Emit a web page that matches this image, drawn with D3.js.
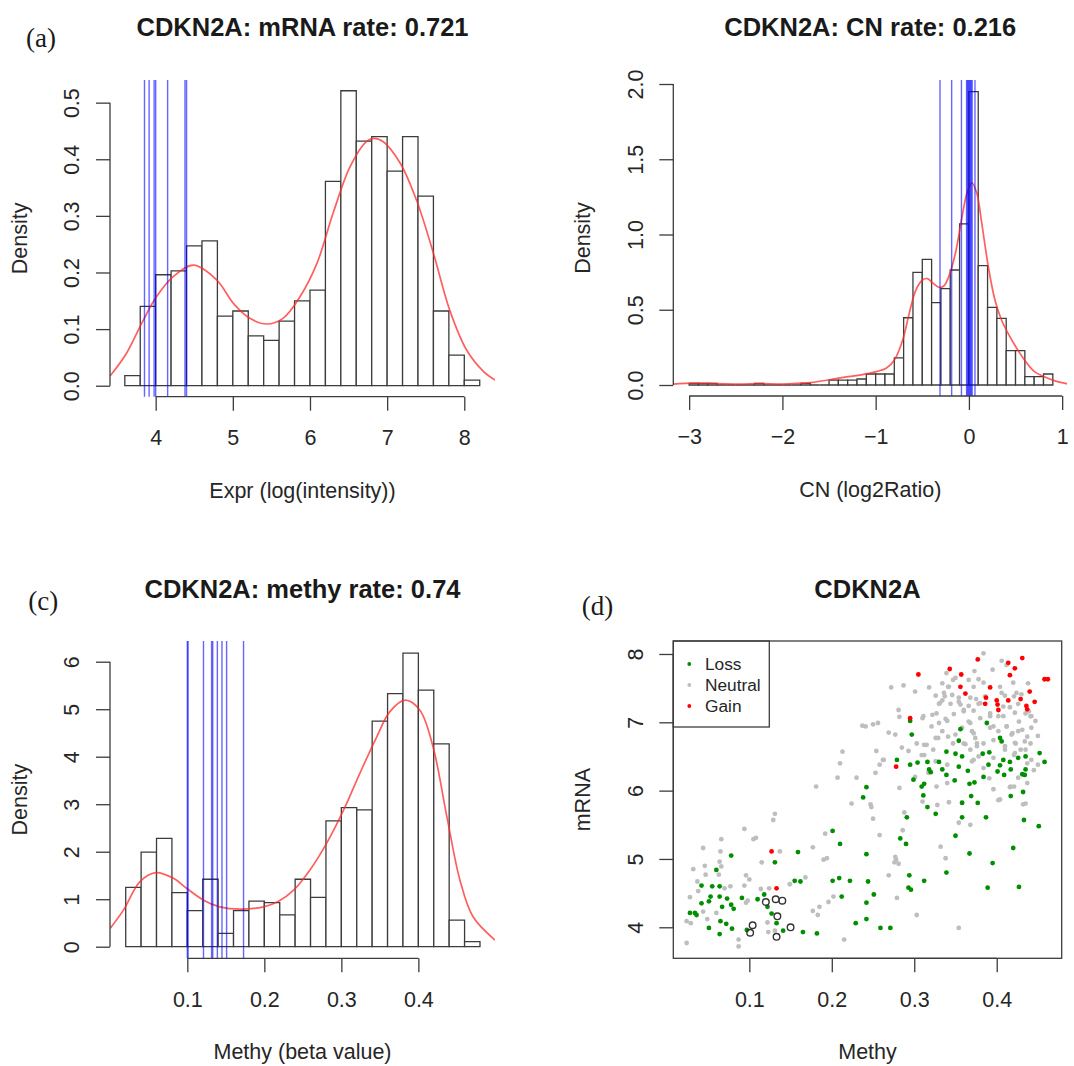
<!DOCTYPE html>
<html>
  <head>
    <meta charset="utf-8">
    <title>CDKN2A mRNA, CN and methylation</title>
    <script src="https://d3js.org/d3.v7.min.js"></script>
    <style>
      body { margin: 0; background: #ffffff; }
      svg { display: block; background: #ffffff; }
      .axis line { stroke: #3c3c3c; stroke-width: 1.3px; }
      .axis text {
        font-family: "Liberation Sans", Arial, sans-serif;
        font-size: 21.5px;
        fill: #262626;
      }
      .axis__line { stroke: #3c3c3c; stroke-width: 1.3px; }
      .axis__title {
        font-family: "Liberation Sans", Arial, sans-serif;
        font-size: 21.5px;
        fill: #262626;
        text-anchor: middle;
      }
      .plot__title {
        font-family: "Liberation Sans", Arial, sans-serif;
        font-size: 25.5px;
        font-weight: bold;
        fill: #1a1a1a;
        text-anchor: middle;
      }
      .panel__label {
        font-family: "Liberation Serif", "Times New Roman", serif;
        font-size: 27px;
        fill: #1a1a1a;
      }
      .bar { fill: #ffffff; stroke: #3c3c3c; stroke-width: 1.3px; }
      .density { fill: none; stroke: #ff2a2a; stroke-opacity: 0.75; stroke-width: 1.7px; }
      .mark-line { stroke: #0000ff; stroke-opacity: 0.6; stroke-width: 1.4px; }
      .box { fill: none; stroke: #3c3c3c; stroke-width: 1.3px; }
      .legend text {
        font-family: "Liberation Sans", Arial, sans-serif;
        font-size: 17.3px;
        fill: #262626;
      }
    </style>
  </head>
  <body>
    <svg width="1074" height="1066"></svg>
    <script>
      // ---- (a) mRNA expression histogram ----
      const exprBreaks = [3.6, 3.8, 4.0, 4.2, 4.4, 4.6, 4.8, 5.0, 5.2, 5.4, 5.6, 5.8,
        6.0, 6.2, 6.4, 6.6, 6.8, 7.0, 7.2, 7.4, 7.6, 7.8, 8.0, 8.2];
      const exprDensity = [0.018, 0.140, 0.196, 0.203, 0.247, 0.256, 0.123, 0.132, 0.088,
        0.080, 0.114, 0.150, 0.169, 0.361, 0.521, 0.432, 0.440, 0.379, 0.440, 0.335,
        0.132, 0.054, 0.010];
      const exprCurve = [[3.408, 0.017], [3.62, 0.057], [3.84, 0.116], [4.01, 0.157],
        [4.23, 0.193], [4.49, 0.213], [4.79, 0.187], [5.01, 0.145], [5.22, 0.119],
        [5.44, 0.109], [5.65, 0.119], [5.87, 0.157], [6.09, 0.216], [6.30, 0.305],
        [6.52, 0.387], [6.73, 0.431], [6.82, 0.437], [6.95, 0.431], [7.17, 0.393],
        [7.38, 0.328], [7.60, 0.234], [7.81, 0.134], [8.03, 0.063], [8.25, 0.025], [8.40, 0.010]];
      const exprMarks = [3.855, 3.915, 3.98, 4.0, 4.155, 4.38, 4.40];
      const exprXTicks = [4, 5, 6, 7, 8];
      const exprYTicks = [0, 0.1, 0.2, 0.3, 0.4, 0.5];

      // ---- (b) copy number histogram ----
      const cnBreaks = [-3.0, -2.9, -2.8, -2.7, -2.6, -2.5, -2.4, -2.3, -2.2, -2.1, -2.0,
        -1.9, -1.8, -1.7, -1.6, -1.5, -1.4, -1.3, -1.2, -1.1, -1.0, -0.9, -0.8, -0.7,
        -0.6, -0.5, -0.4, -0.3, -0.2, -0.1, 0.0, 0.1, 0.2, 0.3, 0.4, 0.5, 0.6, 0.7, 0.8, 0.9];
      const cnDensity = [0.011, 0.011, 0.011, 0, 0, 0, 0, 0.011, 0, 0, 0, 0, 0.011, 0, 0,
        0.033, 0.033, 0.033, 0.040, 0.073, 0.073, 0.073, 0.180, 0.447, 0.749, 0.835,
        0.547, 0.640, 0.764, 1.070, 1.949, 0.793, 0.516, 0.443, 0.228, 0.228, 0.055,
        0.055, 0.073];
      const cnCurve = [[-3.17, 0.006], [-2.95, 0.012], [-2.7, 0.009], [-2.45, 0.006],
        [-2.25, 0.010], [-2.0, 0.006], [-1.8, 0.012], [-1.70, 0.016], [-1.505, 0.033],
        [-1.346, 0.051], [-1.17, 0.066], [-0.993, 0.089], [-0.887, 0.111], [-0.799, 0.166],
        [-0.71, 0.299], [-0.64, 0.476], [-0.569, 0.631], [-0.498, 0.698], [-0.445, 0.707],
        [-0.392, 0.68], [-0.32, 0.649], [-0.269, 0.658], [-0.216, 0.72], [-0.145, 0.875],
        [-0.074, 1.118], [-0.021, 1.274], [0.032, 1.344], [0.085, 1.274], [0.138, 1.074],
        [0.208, 0.786], [0.279, 0.565], [0.35, 0.432], [0.42, 0.343], [0.491, 0.266],
        [0.597, 0.166], [0.703, 0.089], [0.809, 0.055], [0.915, 0.029], [1.057, 0.007]];
      const cnMarks = [-0.31, -0.185, -0.08, -0.025, -0.015, -0.005, 0.005, 0.015,
        0.025, 0.035, 0.065];
      const cnXTicks = [-3, -2, -1, 0, 1];
      const cnYTicks = [0, 0.5, 1.0, 1.5, 2.0];

      // ---- (c) methylation histogram ----
      const methyBreaks = [0.02, 0.04, 0.06, 0.08, 0.10, 0.12, 0.14, 0.16, 0.18, 0.20,
        0.22, 0.24, 0.26, 0.28, 0.30, 0.32, 0.34, 0.36, 0.38, 0.40, 0.42, 0.44, 0.46, 0.48];
      const methyDensity = [1.25, 1.99, 2.28, 1.14, 0.76, 1.42, 0.28, 0.76, 0.96, 0.93,
        0.67, 1.42, 1.04, 2.65, 2.93, 2.88, 4.75, 5.33, 6.18, 5.40, 4.27, 0.56, 0.105];
      const methyCurve = [[0.0, 0.39], [0.017, 0.77], [0.0385, 1.37], [0.059, 1.56],
        [0.082, 1.44], [0.099, 1.23], [0.121, 0.98], [0.142, 0.84], [0.168, 0.79],
        [0.199, 0.84], [0.218, 0.95], [0.238, 1.19], [0.259, 1.61], [0.281, 2.18],
        [0.303, 2.88], [0.324, 3.65], [0.346, 4.42], [0.363, 4.95], [0.383, 5.19],
        [0.402, 4.98], [0.419, 4.21], [0.437, 2.74], [0.454, 1.40], [0.471, 0.63], [0.4995, 0.14]];
      const methyMarks = [0.100, 0.101, 0.121, 0.1315, 0.133, 0.139, 0.145, 0.151, 0.173];
      const methyXTicks = [0.1, 0.2, 0.3, 0.4];
      const methyYTicks = [0, 1, 2, 3, 4, 5, 6];

      // ---- (d) methylation vs mRNA scatter, [methy, mRNA] ----
      const neutralPoints = [
        [0.210, 6.40], [0.207, 6.19], [0.230, 6.19], [0.181, 6.06], [0.224, 5.81], [0.131, 5.66],
        [0.129, 5.57], [0.094, 5.44], [0.108, 5.31], [0.105, 5.29], [0.066, 5.29], [0.044, 5.16],
        [0.065, 5.11], [0.137, 5.11], [0.064, 4.96], [0.032, 4.85], [0.046, 4.90], [0.066, 4.89],
        [0.115, 4.95], [0.177, 5.17], [0.192, 5.37], [0.190, 4.99], [0.194, 5.01], [0.063, 4.77],
        [0.047, 4.77], [0.096, 4.76], [0.100, 4.70], [0.037, 4.67], [0.077, 4.60], [0.094, 4.61],
        [0.114, 4.56], [0.124, 4.57], [0.149, 4.63], [0.168, 4.73], [0.028, 4.44], [0.038, 4.53],
        [0.070, 4.57], [0.096, 4.36], [0.044, 4.23], [0.060, 4.21], [0.049, 4.12], [0.024, 4.09],
        [0.029, 4.06], [0.177, 4.24], [0.183, 4.18], [0.185, 4.30], [0.196, 4.37], [0.202, 4.45],
        [0.122, 4.07], [0.123, 3.93], [0.131, 3.95], [0.087, 3.82], [0.087, 3.72], [0.024, 3.77],
        [0.215, 3.82], [0.098, 4.39],
        [0.237, 6.95], [0.213, 6.57], [0.250, 6.97], [0.256, 6.99], [0.269, 6.85], [0.281, 7.18],
        [0.282, 7.08], [0.272, 7.51], [0.287, 7.54], [0.384, 8.01], [0.406, 7.90], [0.395, 7.77],
        [0.248, 5.76], [0.250, 5.59], [0.258, 6.38], [0.262, 6.45], [0.282, 6.04], [0.288, 5.68],
        [0.258, 5.35], [0.276, 4.95], [0.279, 4.43], [0.303, 4.18], [0.354, 3.99], [0.332, 5.18],
        [0.338, 5.01], [0.402, 5.86], [0.391, 6.18], [0.417, 6.06], [0.437, 6.40], [0.435, 5.81],
        [0.450, 6.80], [0.447, 7.02], [0.439, 7.16],
        [0.247, 5.80], [0.286, 5.42], [0.310, 5.84], [0.328, 5.79], [0.342, 5.83], [0.358, 5.83],
        [0.354, 5.53], [0.368, 5.50], [0.277, 5.03], [0.278, 4.99], [0.281, 4.93], [0.269, 4.76],
        [0.366, 7.62], [0.318, 7.51], [0.334, 7.57], [0.350, 7.65], [0.301, 7.45], [0.342, 7.52],
        [0.336, 7.43], [0.373, 7.75], [0.378, 7.63], [0.384, 7.58], [0.406, 7.43], [0.410, 7.39],
        [0.424, 7.43], [0.430, 7.41], [0.420, 7.58], [0.326, 7.39], [0.334, 7.32], [0.346, 7.40],
        [0.354, 7.36], [0.368, 7.36], [0.375, 7.34], [0.330, 7.27], [0.344, 7.27], [0.356, 7.26],
        [0.366, 7.24], [0.378, 7.27], [0.360, 7.16], [0.372, 7.17], [0.416, 7.22], [0.426, 7.27],
        [0.422, 7.14], [0.442, 7.09], [0.322, 7.11], [0.310, 7.06], [0.348, 7.12], [0.392, 7.09],
        [0.408, 7.09], [0.380, 7.06], [0.338, 7.05],
        [0.241, 6.94], [0.277, 6.82], [0.312, 6.67], [0.293, 6.58], [0.285, 6.63], [0.254, 6.58],
        [0.263, 6.45], [0.253, 6.26], [0.301, 6.20], [0.326, 6.77], [0.334, 6.87], [0.340, 7.02],
        [0.330, 6.99], [0.350, 6.82], [0.358, 6.92], [0.368, 6.99], [0.370, 6.87], [0.374, 6.77],
        [0.362, 6.68], [0.376, 6.65], [0.392, 6.92], [0.402, 6.87], [0.412, 6.94], [0.418, 6.82],
        [0.426, 6.87], [0.422, 6.70], [0.410, 6.65], [0.434, 6.72], [0.442, 6.92], [0.312, 6.52],
        [0.326, 6.43], [0.340, 6.38], [0.370, 6.43], [0.378, 6.50], [0.396, 6.48], [0.422, 6.55],
        [0.442, 6.45], [0.450, 6.38], [0.426, 6.19], [0.384, 6.33], [0.396, 6.02], [0.416, 6.05],
        [0.432, 5.80], [0.404, 5.87], [0.340, 6.11],
        [0.311, 7.09], [0.321, 6.94], [0.327, 7.13], [0.331, 7.28], [0.337, 7.38], [0.341, 7.52],
        [0.347, 7.62], [0.354, 7.30], [0.360, 7.18], [0.366, 7.01], [0.372, 6.84], [0.376, 6.69],
        [0.380, 7.28], [0.386, 7.38], [0.392, 7.13], [0.396, 6.94], [0.402, 7.09], [0.408, 7.23],
        [0.412, 6.94], [0.419, 6.84], [0.423, 6.69], [0.427, 7.01], [0.431, 6.89], [0.437, 6.79],
        [0.441, 7.09], [0.421, 7.38], [0.404, 7.52], [0.372, 7.52], [0.347, 6.69], [0.341, 6.79],
        [0.329, 6.77], [0.323, 6.60], [0.315, 6.67], [0.309, 6.52], [0.303, 6.69], [0.317, 6.26],
        [0.327, 6.06], [0.360, 6.69], [0.368, 6.60], [0.372, 6.45], [0.384, 6.69], [0.396, 6.74],
        [0.410, 6.60], [0.421, 6.52], [0.429, 6.60], [0.435, 6.60], [0.441, 6.69], [0.445, 6.30],
        [0.437, 6.11], [0.421, 6.06], [0.438, 7.57], [0.435, 7.13], [0.412, 7.84], [0.339, 7.72]
      ];
      const lossPoints = [
        [0.078, 5.05], [0.060, 4.84], [0.131, 4.95], [0.159, 5.10], [0.201, 5.41], [0.210, 5.22],
        [0.238, 5.90], [0.042, 4.61], [0.055, 4.60], [0.064, 4.60], [0.155, 4.68], [0.162, 4.67],
        [0.201, 4.68], [0.209, 4.72], [0.222, 4.68], [0.053, 4.45], [0.064, 4.45], [0.073, 4.42],
        [0.091, 4.43], [0.110, 4.41], [0.118, 4.48], [0.212, 4.45], [0.042, 4.35], [0.051, 4.38],
        [0.067, 4.30], [0.078, 4.33], [0.081, 4.27], [0.122, 4.30], [0.028, 4.21], [0.034, 4.21],
        [0.036, 4.18], [0.127, 4.20], [0.065, 4.09], [0.072, 4.05], [0.051, 3.99], [0.079, 3.98],
        [0.097, 3.96], [0.133, 4.06], [0.141, 3.95], [0.165, 3.93], [0.182, 3.91], [0.064, 3.90],
        [0.229, 4.06],
        [0.316, 5.76], [0.326, 5.66], [0.291, 5.61], [0.358, 5.61], [0.387, 5.61], [0.377, 5.82],
        [0.358, 5.82], [0.433, 5.57], [0.451, 5.48], [0.283, 5.30], [0.290, 5.22], [0.350, 5.34],
        [0.242, 5.07], [0.367, 5.08], [0.420, 5.16], [0.395, 4.94], [0.339, 4.80], [0.294, 4.76],
        [0.312, 4.68], [0.244, 4.67], [0.293, 4.58], [0.296, 4.55], [0.251, 4.48], [0.389, 4.58],
        [0.427, 4.59], [0.242, 4.36], [0.242, 4.12], [0.259, 3.99], [0.271, 3.99],
        [0.297, 6.82], [0.388, 6.99], [0.354, 6.73], [0.406, 6.72], [0.339, 6.57], [0.350, 6.54],
        [0.358, 6.50], [0.383, 6.54], [0.391, 6.56], [0.279, 6.45], [0.295, 6.38], [0.304, 6.41],
        [0.316, 6.42], [0.330, 6.42], [0.354, 6.35], [0.318, 6.31], [0.320, 6.27], [0.334, 6.31],
        [0.339, 6.23], [0.365, 6.29], [0.384, 6.20], [0.390, 6.38], [0.408, 6.45], [0.416, 6.42],
        [0.426, 6.48], [0.435, 6.50], [0.452, 6.55], [0.458, 6.42], [0.404, 6.37], [0.401, 6.28],
        [0.409, 6.23], [0.417, 6.31], [0.431, 6.24], [0.435, 6.31], [0.434, 6.23], [0.299, 6.16],
        [0.309, 6.06], [0.312, 6.10], [0.349, 6.15], [0.367, 6.10], [0.373, 6.12], [0.311, 5.93],
        [0.242, 6.05], [0.369, 5.92], [0.417, 5.92], [0.432, 5.98], [0.295, 7.02], [0.356, 6.90],
        [0.404, 6.77]
      ];
      const gainPoints = [
        [0.305, 7.70], [0.343, 7.78], [0.357, 7.70], [0.377, 7.92], [0.414, 7.87], [0.422, 7.79],
        [0.431, 7.94], [0.416, 7.69], [0.356, 7.52], [0.392, 7.51], [0.362, 7.42], [0.387, 7.36],
        [0.400, 7.32], [0.401, 7.26], [0.402, 7.18], [0.414, 7.32], [0.429, 7.34], [0.440, 7.45],
        [0.446, 7.30], [0.436, 7.24], [0.437, 7.19], [0.458, 7.63], [0.462, 7.63], [0.295, 7.06],
        [0.386, 7.27], [0.278, 6.35], [0.127, 5.11], [0.133, 4.57]
      ];
      const markedSamples = [[0.120, 4.37], [0.132, 4.41], [0.140, 4.39], [0.134, 4.16],
        [0.104, 4.03], [0.101, 3.92], [0.150, 4.00], [0.133, 3.86]];
      const scatterXTicks = [0.1, 0.2, 0.3, 0.4];
      const scatterYTicks = [4, 5, 6, 7, 8];
      const legendLabels = ["Loss", "Neutral", "Gain"];
      const legendColors = ["#008f00", "#bebebe", "#ff0000"];

      const svg = d3.select("svg");

      function makeScales(frame) {
        const xScale = d3.scaleLinear().domain(frame.xDomain).range([frame.left, frame.right]);
        const yScale = d3.scaleLinear().domain(frame.yDomain).range([frame.bottom, frame.top]);
        return { xScale, yScale };
      }

      function xAxis(selection, props) {
        const scale = props.scale;
        const ticks = props.ticks;
        const axis = d3.axisBottom(scale)
          .tickValues(ticks)
          .tickSize(14)
          .tickPadding(19)
          .tickFormat(props.format);
        const g = selection.append("g")
          .attr("class", "axis")
          .attr("transform", `translate(0, ${props.y})`)
          .call(axis);
        g.select(".domain").remove();
        g.append("line")
          .attr("class", "axis__line")
          .attr("x1", scale(ticks[0]))
          .attr("x2", scale(ticks[ticks.length - 1]));
      }

      function yAxis(selection, props) {
        const scale = props.scale;
        const ticks = props.ticks;
        const axis = d3.axisLeft(scale)
          .tickValues(ticks)
          .tickSize(14)
          .tickFormat(props.format);
        const g = selection.append("g")
          .attr("class", "axis")
          .attr("transform", `translate(${props.x}, 0)`)
          .call(axis);
        g.select(".domain").remove();
        g.selectAll(".tick text")
          .attr("transform", "rotate(-90)")
          .attr("x", 0)
          .attr("y", -38.3)
          .attr("dy", "0.35em")
          .attr("text-anchor", "middle");
        g.append("line")
          .attr("class", "axis__line")
          .attr("y1", scale(ticks[0]))
          .attr("y2", scale(ticks[ticks.length - 1]));
      }

      function titles(selection, props) {
        const f = props.frame;
        const cx = (f.left + f.right) / 2;
        const cy = (f.top + f.bottom) / 2;
        selection.append("text")
          .attr("class", "plot__title")
          .attr("x", cx)
          .attr("y", props.titleY)
          .text(props.title);
        selection.append("text")
          .attr("class", "axis__title")
          .attr("x", cx)
          .attr("y", f.bottom + 101)
          .text(props.xLabel);
        selection.append("text")
          .attr("class", "axis__title")
          .attr("transform", `translate(${f.left - 90.5}, ${cy}) rotate(-90)`)
          .attr("dy", "0.35em")
          .text(props.yLabel);
        if (props.panel) {
          selection.append("text")
            .attr("class", "panel__label")
            .attr("x", props.panel.x)
            .attr("y", props.panel.y)
            .text(props.panel.text);
        }
      }

      function histogramPanel(selection, props) {
        const f = props.frame;
        const { xScale, yScale } = makeScales(f);
        const g = selection.append("g");

        g.append("clipPath")
          .attr("id", props.id)
          .append("rect")
            .attr("x", f.left)
            .attr("y", f.top)
            .attr("width", f.right - f.left)
            .attr("height", f.bottom - f.top);

        const bins = props.density.map((d, i) => ({
          x0: props.breaks[i],
          x1: props.breaks[i + 1],
          d
        }));
        g.selectAll(".bar")
          .data(bins)
          .enter().append("path")
            .attr("class", "bar")
            .attr("d", b => {
              const x0 = xScale(b.x0), x1 = xScale(b.x1);
              const y0 = yScale(0), y1 = yScale(b.d);
              return `M${x0},${y0}V${y1}H${x1}V${y0}Z`;
            });

        const line = d3.line()
          .x(d => xScale(d[0]))
          .y(d => yScale(d[1]))
          .curve(d3.curveCatmullRom.alpha(0.5));
        g.append("path")
          .attr("class", "density")
          .attr("clip-path", `url(#${props.id})`)
          .attr("d", line(props.curve));

        g.selectAll(".mark-line")
          .data(props.marks)
          .enter().append("line")
            .attr("class", "mark-line")
            .attr("x1", d => xScale(d))
            .attr("x2", d => xScale(d))
            .attr("y1", f.top)
            .attr("y2", f.bottom);

        xAxis(g, { scale: xScale, ticks: props.xTicks, y: f.bottom, format: props.xFormat });
        yAxis(g, { scale: yScale, ticks: props.yTicks, x: f.left, format: props.yFormat });
        titles(g, props);
      }

      function scatterPanel(selection, props) {
        const f = props.frame;
        const { xScale, yScale } = makeScales(f);
        const g = selection.append("g");

        const groups = [
          { data: neutralPoints, color: legendColors[1] },
          { data: lossPoints, color: legendColors[0] },
          { data: gainPoints, color: legendColors[2] }
        ];
        groups.forEach(grp => {
          g.append("g").selectAll("circle")
            .data(grp.data)
            .enter().append("circle")
              .attr("cx", d => xScale(d[0]))
              .attr("cy", d => yScale(d[1]))
              .attr("r", 2.4)
              .attr("fill", grp.color);
        });
        g.append("g").selectAll("circle")
          .data(markedSamples)
          .enter().append("circle")
            .attr("cx", d => xScale(d[0]))
            .attr("cy", d => yScale(d[1]))
            .attr("r", 3.3)
            .attr("fill", "none")
            .attr("stroke", "#333333")
            .attr("stroke-width", 1.4);

        g.append("rect")
          .attr("class", "box")
          .attr("x", f.left)
          .attr("y", f.top)
          .attr("width", f.right - f.left)
          .attr("height", f.bottom - f.top);

        const legend = g.append("g").attr("class", "legend");
        legend.append("rect")
          .attr("class", "box")
          .attr("x", f.left)
          .attr("y", f.top)
          .attr("width", 96)
          .attr("height", 86);
        const item = legend.selectAll(".item")
          .data(legendLabels)
          .enter().append("g")
            .attr("class", "item")
            .attr("transform", (d, i) => `translate(${f.left + 16}, ${f.top + 23 + i * 21})`);
        item.append("circle")
          .attr("r", 1.9)
          .attr("fill", (d, i) => legendColors[i]);
        item.append("text")
          .attr("x", 15.7)
          .attr("dy", "0.35em")
          .text(d => d);

        xAxis(g, { scale: xScale, ticks: scatterXTicks, y: f.bottom, format: d3.format(".1f") });
        yAxis(g, { scale: yScale, ticks: scatterYTicks, x: f.left, format: d3.format("d") });
        titles(g, props);
      }

      function main() {
        svg.call(histogramPanel, {
          id: "clip-expr",
          frame: { left: 110, right: 495, top: 80, bottom: 396.7,
            xDomain: [3.408, 8.398], yDomain: [-0.0194, 0.540] },
          breaks: exprBreaks,
          density: exprDensity,
          curve: exprCurve,
          marks: exprMarks,
          xTicks: exprXTicks,
          yTicks: exprYTicks,
          xFormat: d3.format("d"),
          yFormat: d3.format(".1f"),
          title: "CDKN2A: mRNA rate: 0.721",
          titleY: 36,
          xLabel: "Expr (log(intensity))",
          yLabel: "Density",
          panel: { text: "(a)", x: 26, y: 47 }
        });

        svg.call(histogramPanel, {
          id: "clip-cn",
          frame: { left: 673.3, right: 1067.2, top: 80, bottom: 396,
            xDomain: [-3.17, 1.054], yDomain: [-0.0731, 2.0266] },
          breaks: cnBreaks,
          density: cnDensity,
          curve: cnCurve,
          marks: cnMarks,
          xTicks: cnXTicks,
          yTicks: cnYTicks,
          xFormat: d3.format("d"),
          yFormat: d3.format(".1f"),
          title: "CDKN2A: CN rate: 0.216",
          titleY: 36,
          xLabel: "CN (log2Ratio)",
          yLabel: "Density"
        });

        svg.call(histogramPanel, {
          id: "clip-methy",
          frame: { left: 110, right: 495, top: 641, bottom: 958.3,
            xDomain: [-0.0004, 0.4995], yDomain: [-0.244, 6.436] },
          breaks: methyBreaks,
          density: methyDensity,
          curve: methyCurve,
          marks: methyMarks,
          xTicks: methyXTicks,
          yTicks: methyYTicks,
          xFormat: d3.format(".1f"),
          yFormat: d3.format("d"),
          title: "CDKN2A: methy rate: 0.74",
          titleY: 597.6,
          xLabel: "Methy (beta value)",
          yLabel: "Density",
          panel: { text: "(c)", x: 28.3, y: 610 }
        });

        svg.call(scatterPanel, {
          frame: { left: 673.3, right: 1061.7, top: 641, bottom: 958.3,
            xDomain: [0.0078, 0.4788], yDomain: [3.546, 8.19] },
          title: "CDKN2A",
          titleY: 597.6,
          xLabel: "Methy",
          yLabel: "mRNA",
          panel: { text: "(d)", x: 581.7, y: 615 }
        });
      }
      main();
    </script>
  </body>
</html>
